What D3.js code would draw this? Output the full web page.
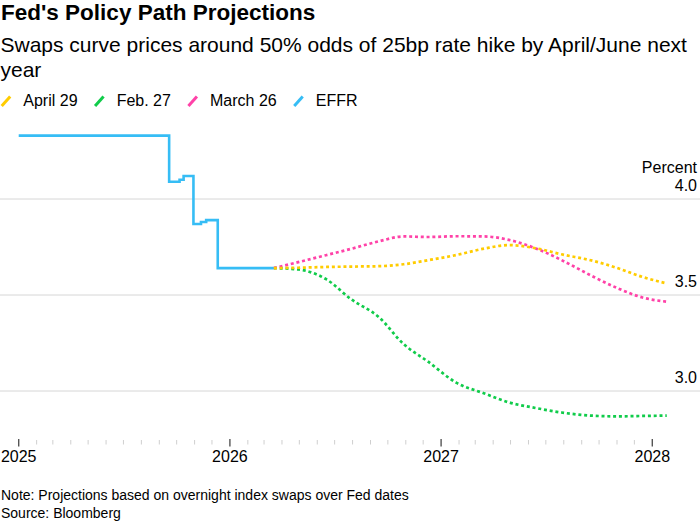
<!DOCTYPE html>
<html>
<head>
<meta charset="utf-8">
<script src="https://cdn.jsdelivr.net/npm/d3@7"></script>
<style>
  html, body { margin: 0; padding: 0; background: #fff; }
  svg { display: block; font-family: "Liberation Sans", Arial, Helvetica, sans-serif; }
</style>
</head>
<body>
<svg id="chart" width="700" height="530"></svg>
<script>
// ---------------- DATA ----------------
const titleText = "Fed's Policy Path Projections";
const subtitleLines = ["Swaps curve prices around 50% odds of 25bp rate hike by April/June next", "year"];
const noteText = "Note: Projections based on overnight index swaps over Fed dates";
const sourceText = "Source: Bloomberg";

const seriesNames = ["April 29", "Feb. 27", "March 26", "EFFR"];
const seriesColors = ["#ffcc00", "#10cc4a", "#ff42a8", "#36bdf5"];

// Effective fed funds rate (step changes)
const effrDates = ["2025-01-01", "2025-09-18", "2025-10-06", "2025-10-13", "2025-10-30",
                   "2025-11-12", "2025-11-21", "2025-12-11", "2026-03-18"];
const effrValues = [4.33, 4.09, 4.10, 4.12, 3.87, 3.88, 3.89, 3.64, 3.64];

// Projections at FOMC meeting dates
const meetingDates = ["2026-03-18", "2026-04-29", "2026-06-17", "2026-07-29", "2026-09-16",
                      "2026-10-28", "2026-12-09", "2027-01-27", "2027-03-17", "2027-04-28",
                      "2027-06-16", "2027-07-28", "2027-09-22", "2027-11-03", "2027-12-15",
                      "2028-01-26"];
const april29 = [3.64, 3.642, 3.646, 3.648, 3.650, 3.660, 3.681, 3.708, 3.742, 3.760,
                 3.742, 3.712, 3.677, 3.639, 3.594, 3.560];
const feb27   = [3.64, 3.633, 3.581, 3.479, 3.383, 3.245, 3.154, 3.044, 2.987, 2.941,
                 2.910, 2.888, 2.871, 2.868, 2.870, 2.872];
const march26 = [3.64, 3.671, 3.708, 3.740, 3.780, 3.805, 3.802, 3.806, 3.805, 3.787,
                 3.740, 3.682, 3.594, 3.534, 3.487, 3.465];

const yTickValues = [3.0, 3.5, 4.0];
const xYearTicks = ["2025-01-01", "2026-01-01", "2027-01-01", "2028-01-01"];
const xDomain = ["2025-01-01", "2028-01-01"];
const yDomain = [3.0, 4.0];

// ---------------- CHART ----------------
const parse = d3.utcParse("%Y-%m-%d");
const svg = d3.select("#chart");
const W = 700;

const x = d3.scaleUtc().domain(xDomain.map(parse)).range([18.7, 652.3]);
const y = d3.scaleLinear().domain(yDomain).range([391, 199]);

// Title & subtitle
svg.append("text").attr("x", 1).attr("y", 20)
  .attr("font-size", 22.5).attr("font-weight", "bold").attr("fill", "#000")
  .text(titleText);
const sub = svg.append("text").attr("font-size", 21).attr("fill", "#000");
subtitleLines.forEach((l, i) => {
  sub.append("tspan").attr("x", 0.5).attr("y", 51.7 + i * 25.6).text(l);
});

// Legend
let lx = 1.7;
seriesNames.forEach((name, i) => {
  const g = svg.append("g");
  g.append("line").attr("x1", lx).attr("y1", 106).attr("x2", lx + 8.5).attr("y2", 96.5)
    .attr("stroke", seriesColors[i]).attr("stroke-width", 3);
  const t = g.append("text").attr("x", lx + 21.6).attr("y", 105.7)
    .attr("font-size", 16).attr("fill", "#000").text(name);
  lx = lx + 21.6 + t.node().getComputedTextLength() + 17.5;
});

// Gridlines & y labels
const yg = svg.append("g");
yTickValues.forEach(v => {
  yg.append("line").attr("x1", 0).attr("x2", W).attr("y1", y(v)).attr("y2", y(v))
    .attr("stroke", "#d6d6d6").attr("stroke-width", 1);
  yg.append("text").attr("x", 697).attr("y", y(v) - 8.5).attr("text-anchor", "end")
    .attr("font-size", 16).attr("fill", "#000").text(d3.format(".1f")(v));
});
svg.append("text").attr("x", 697).attr("y", 173).attr("text-anchor", "end")
  .attr("font-size", 16).attr("fill", "#000").text("Percent");

// X axis: minor monthly ticks + major year ticks
const months = d3.utcMonth.range(parse(xDomain[0]), parse(xDomain[1]))
  .filter(d => d.getUTCMonth() !== 0);
svg.append("g").selectAll("line").data(months).join("line")
  .attr("x1", d => x(d)).attr("x2", d => x(d)).attr("y1", 440).attr("y2", 444.5)
  .attr("stroke", "#cfcfcf").attr("stroke-width", 1);
const years = xYearTicks.map(parse);
const xg = svg.append("g");
xg.selectAll("line").data(years).join("line")
  .attr("x1", d => x(d)).attr("x2", d => x(d)).attr("y1", 439).attr("y2", 446.5)
  .attr("stroke", "#555").attr("stroke-width", 1.4);
xg.selectAll("text").data(years).join("text")
  .attr("x", d => x(d)).attr("y", 461.7).attr("text-anchor", "middle")
  .attr("font-size", 16).attr("fill", "#000").text(d3.utcFormat("%Y"));

// EFFR line
const effr = effrDates.map((d, i) => ({ date: parse(d), value: effrValues[i] }));
svg.append("path").datum(effr)
  .attr("fill", "none").attr("stroke", seriesColors[3]).attr("stroke-width", 2.6)
  .attr("stroke-linejoin", "miter")
  .attr("d", d3.line().x(d => x(d.date)).y(d => y(d.value)).curve(d3.curveStepAfter));

// Projection lines
const projLine = d3.line().x(d => x(d.date)).y(d => y(d.value)).curve(d3.curveMonotoneX);
const projections = [
  { values: feb27, color: seriesColors[1] },
  { values: march26, color: seriesColors[2] },
  { values: april29, color: seriesColors[0] }
];
projections.forEach(p => {
  const data = meetingDates.map((d, i) => ({ date: parse(d), value: p.values[i] }));
  svg.append("path").datum(data)
    .attr("fill", "none").attr("stroke", p.color).attr("stroke-width", 2.7)
    .attr("stroke-dasharray", "3 2.8")
    .attr("d", projLine);
});

// Footer
svg.append("text").attr("x", 1).attr("y", 500).attr("font-size", 14).attr("fill", "#000").text(noteText);
svg.append("text").attr("x", 1).attr("y", 518).attr("font-size", 14).attr("fill", "#000").text(sourceText);
</script>
</body>
</html>
